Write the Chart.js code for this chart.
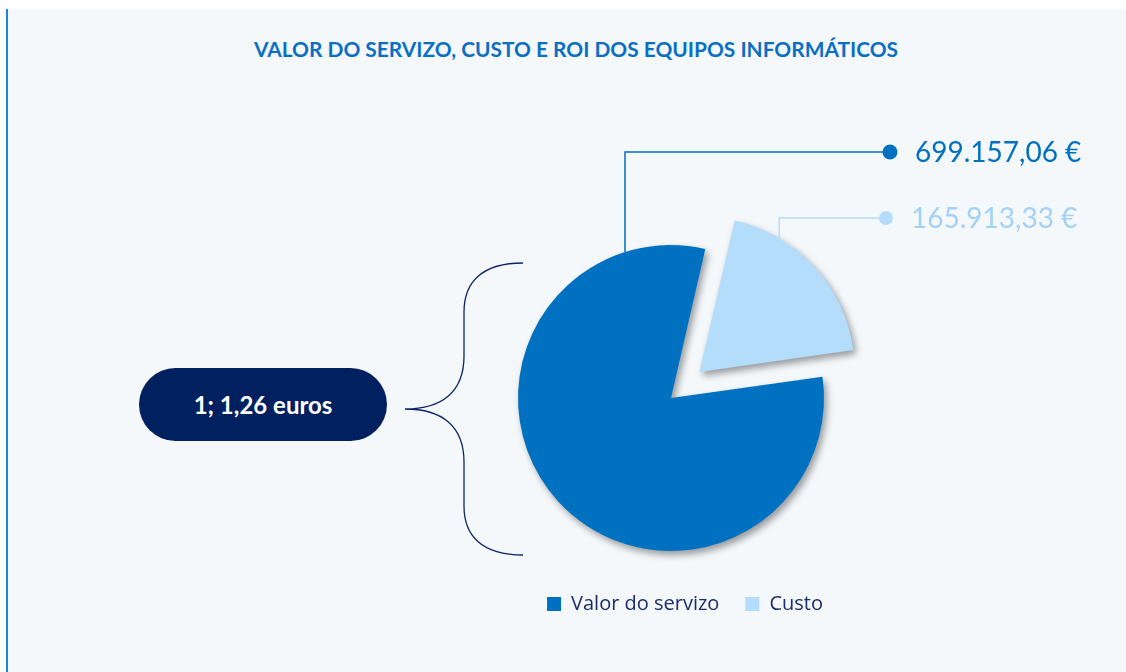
<!DOCTYPE html>
<html>
<head>
<meta charset="utf-8">
<script src="https://cdn.jsdelivr.net/npm/chart.js@4.4.1/dist/chart.umd.min.js"></script>
<style>
  html, body { margin: 0; padding: 0; background: #fff; }
  body { width: 1126px; height: 672px; position: relative; overflow: hidden; }
  .panel { position: absolute; left: 6px; top: 9px; right: 0; bottom: 0; background: #f4f8fb; border-left: 2px solid #1a85db; }
  .title { position: absolute; left: 0; top: 36px; width: 1152px; text-align: center; font: bold 20.9px Lato, sans-serif; color: #0a6fc2; }
  .pill { position: absolute; left: 139px; top: 368px; width: 248px; height: 73px; border-radius: 37px; background: #002060; color: #fff;
          display: flex; align-items: center; justify-content: center; font: bold 24px Lato, sans-serif; }
  canvas { position: absolute; left: 0; top: 0; }
</style>
</head>
<body>
<div class="panel"></div>
<div class="title" id="title"></div>
<div class="pill" id="ratio"></div>
<canvas id="chart" width="1126" height="672"></canvas>
<script>
// Valor do servizo vs custo — pie with leader labels

const titleText = 'VALOR DO SERVIZO, CUSTO E ROI DOS EQUIPOS INFORMÁTICOS';
const categories = ['Valor do servizo', 'Custo'];
const values = [699157.06, 165913.33];
const ratioText = '1; 1,26 euros';

const sliceColors = ['#0070c0', '#b4dcfb'];
const labelColors = ['#0070c0', '#a3d1f7'];

document.getElementById('title').textContent = titleText;
document.getElementById('ratio').textContent = ratioText;

const fmt = v => v.toLocaleString('de-DE', { minimumFractionDigits: 2, maximumFractionDigits: 2 }) + ' €';

// leader layout: anchor angle on slice (deg, clockwise from top), label row y, dot x
const leaders = [
  { angle: -17.5, rowY: 152, dotX: 890, dotR: 7.5 },
  { angle: 30.6, rowY: 218, dotX: 886, dotR: 7 },
];

const piePlugin = {
  id: 'pieExtras',
  afterLayout(chart) {
    // legend sits a little right of the pie in the original
    chart.legend.left += 14;
    chart.legend.right += 14;
  },
  beforeDatasetsDraw(chart) {
    const ctx = chart.ctx;
    ctx.save();
    ctx.shadowColor = 'rgba(0,0,0,0.38)';
    ctx.shadowBlur = 7;
    ctx.shadowOffsetX = 3;
    ctx.shadowOffsetY = 4;
  },
  afterDatasetsDraw(chart) {
    const ctx = chart.ctx;
    ctx.restore();
    const arcs = chart.getDatasetMeta(0).data;
    arcs.forEach((arc, i) => {
      const { x, y, outerRadius, startAngle, endAngle } = arc.getProps(['x', 'y', 'outerRadius', 'startAngle', 'endAngle'], true);
      const off = (arc.options.offset || 0) / 4;
      const half = (startAngle + endAngle) / 2;
      const fix = 1 - Math.sin(Math.min(Math.PI, endAngle - startAngle));
      const shift = off * (1 + fix);
      const cx = x + Math.cos(half) * shift;
      const cy = y + Math.sin(half) * shift;
      const l = leaders[i];
      const a = (l.angle - 90) * Math.PI / 180;
      const ax = cx + Math.cos(a) * outerRadius;
      const ay = cy + Math.sin(a) * outerRadius;

      ctx.save();
      ctx.strokeStyle = sliceColors[i];
      ctx.lineWidth = 1.5;
      ctx.beginPath();
      ctx.moveTo(ax, ay);
      ctx.lineTo(ax, l.rowY);
      ctx.lineTo(l.dotX, l.rowY);
      ctx.stroke();
      ctx.fillStyle = sliceColors[i];
      ctx.beginPath();
      ctx.arc(l.dotX, l.rowY, l.dotR, 0, Math.PI * 2);
      ctx.fill();
      ctx.fillStyle = labelColors[i];
      ctx.font = '28px Lato, sans-serif';
      ctx.textBaseline = 'middle';
      ctx.fillText(fmt(values[i]), l.dotX + 25, l.rowY + 1);
      ctx.restore();
    });
  },
  afterDraw(chart) {
    // curly bracket joining the ratio pill to the pie
    const ctx = chart.ctx;
    ctx.save();
    ctx.strokeStyle = '#0b2466';
    ctx.lineWidth = 1.3;
    ctx.beginPath();
    ctx.moveTo(523, 263);
    ctx.bezierCurveTo(482, 263, 464, 282, 464, 312);
    ctx.lineTo(464, 356);
    ctx.bezierCurveTo(464, 392, 442, 409, 405, 409);
    ctx.bezierCurveTo(442, 409, 464, 426, 464, 462);
    ctx.lineTo(464, 506);
    ctx.bezierCurveTo(464, 536, 482, 555, 523, 555);
    ctx.stroke();
    ctx.restore();
  }
};

new Chart(document.getElementById('chart'), {
  type: 'pie',
  data: {
    labels: categories,
    datasets: [{
      data: values,
      backgroundColor: sliceColors,
      borderWidth: 0,
      offset: [0, 154],
      hoverOffset: 0,
    }],
  },
  options: {
    responsive: false,
    animation: false,
    rotation: 82,
    radius: 153,
    layout: { padding: { left: 400, right: 184, top: 228, bottom: 48 } },
    plugins: {
      legend: {
        position: 'bottom',
        labels: {
          boxWidth: 14,
          boxHeight: 14,
          padding: 26,
          color: '#1b2c68',
          font: { family: "'Open Sans', sans-serif", size: 20 },
        },
      },
      tooltip: { enabled: false },
    },
  },
  plugins: [piePlugin],
});
</script>
</body>
</html>
